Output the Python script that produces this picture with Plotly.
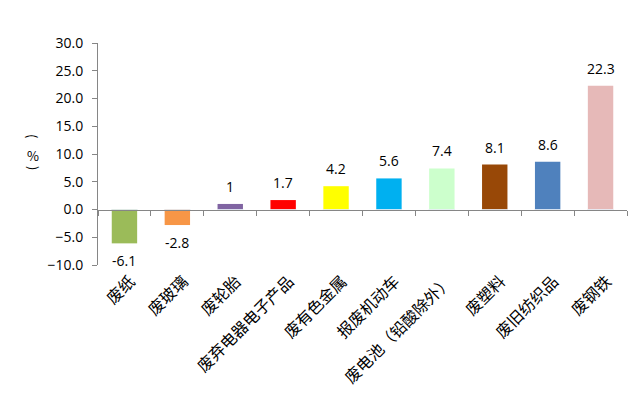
import plotly.graph_objects as go

categories = ["废纸", "废玻璃", "废轮胎", "废弃电器电子产品", "废有色金属",
              "报废机动车", "废电池（铅酸除外）", "废塑料", "废旧纺织品", "废钢铁"]
values = [-6.1, -2.8, 1, 1.7, 4.2, 5.6, 7.4, 8.1, 8.6, 22.3]
value_labels = ["-6.1", "-2.8", "1", "1.7", "4.2", "5.6", "7.4", "8.1", "8.6", "22.3"]
colors = ["#9BBB59", "#F79646", "#8064A2", "#FF0000", "#FFFF00",
          "#00B0F0", "#CCFFCC", "#984807", "#4F81BD", "#E6B9B8"]
y_ticks = [-10, -5, 0, 5, 10, 15, 20, 25, 30]
y_min, y_max = -10, 30
y_title_chars = ["(", "%", ")"]
y_title_angles = [90, 0, 90]
y_title_pos = [0.581, 0.491, 0.437]

fig = go.Figure()
fig.add_trace(go.Bar(
    x=categories, y=values, marker=dict(color=colors, line=dict(width=0)),
    width=0.48, showlegend=False, hoverinfo="skip",
))
fig.add_trace(go.Bar(x=categories, y=[0] * len(categories), xaxis="x2",
                     marker=dict(color="rgba(0,0,0,0)"), showlegend=False,
                     hoverinfo="skip"))

annotations = []
for cat, val, lab in zip(categories, values, value_labels):
    annotations.append(dict(
        x=cat, y=val, xref="x", yref="y", text=lab, showarrow=False,
        xanchor="center", yanchor="bottom" if val >= 0 else "top",
        yshift=6 if val >= 0 else -6,
        font=dict(family="Open Sans, DejaVu Sans", size=14, color="#000000"),
    ))
for ch, ang, yy in zip(y_title_chars, y_title_angles, y_title_pos):
    annotations.append(dict(
        text=ch, xref="paper", yref="paper", textangle=ang,
        x=-0.123, y=yy, xanchor="center", yanchor="middle", showarrow=False,
        font=dict(family="Noto Sans CJK SC", size=13, color="#000000"),
    ))

axis_color = "#868686"
fig.update_layout(
    width=633, height=387,
    margin=dict(l=90, r=14, t=35, b=130, autoexpand=False),
    plot_bgcolor="white", paper_bgcolor="white",
    bargap=0.5,
    xaxis=dict(
        type="category", showline=False, ticks="", showgrid=False,
        tickangle=-45, automargin=False,
        ticklabelshift=6, ticklabelstandoff=3,
        tickfont=dict(family="Noto Sans CJK SC", size=16, color="#000000"),
        range=[-0.5, 9.5],
    ),
    xaxis2=dict(
        type="category", overlaying="x", anchor="free",
        position=(0 - y_min) / (y_max - y_min),
        showline=True, linecolor=axis_color, linewidth=1,
        ticks="outside", tickson="boundaries", ticklen=5, tickcolor=axis_color,
        showticklabels=False, showgrid=False, range=[-0.5, 9.5],
    ),
    yaxis=dict(
        range=[y_min, y_max], tickvals=y_ticks, tickformat=".1f",
        showline=True, linecolor=axis_color, linewidth=1, automargin=False,
        ticks="outside", ticklen=5, tickcolor=axis_color,
        ticklabelstandoff=6,
        showgrid=False, zeroline=False,
        tickfont=dict(family="Open Sans, DejaVu Sans", size=14, color="#000000"),
    ),
    annotations=annotations,
)

fig.write_html("out.html")
